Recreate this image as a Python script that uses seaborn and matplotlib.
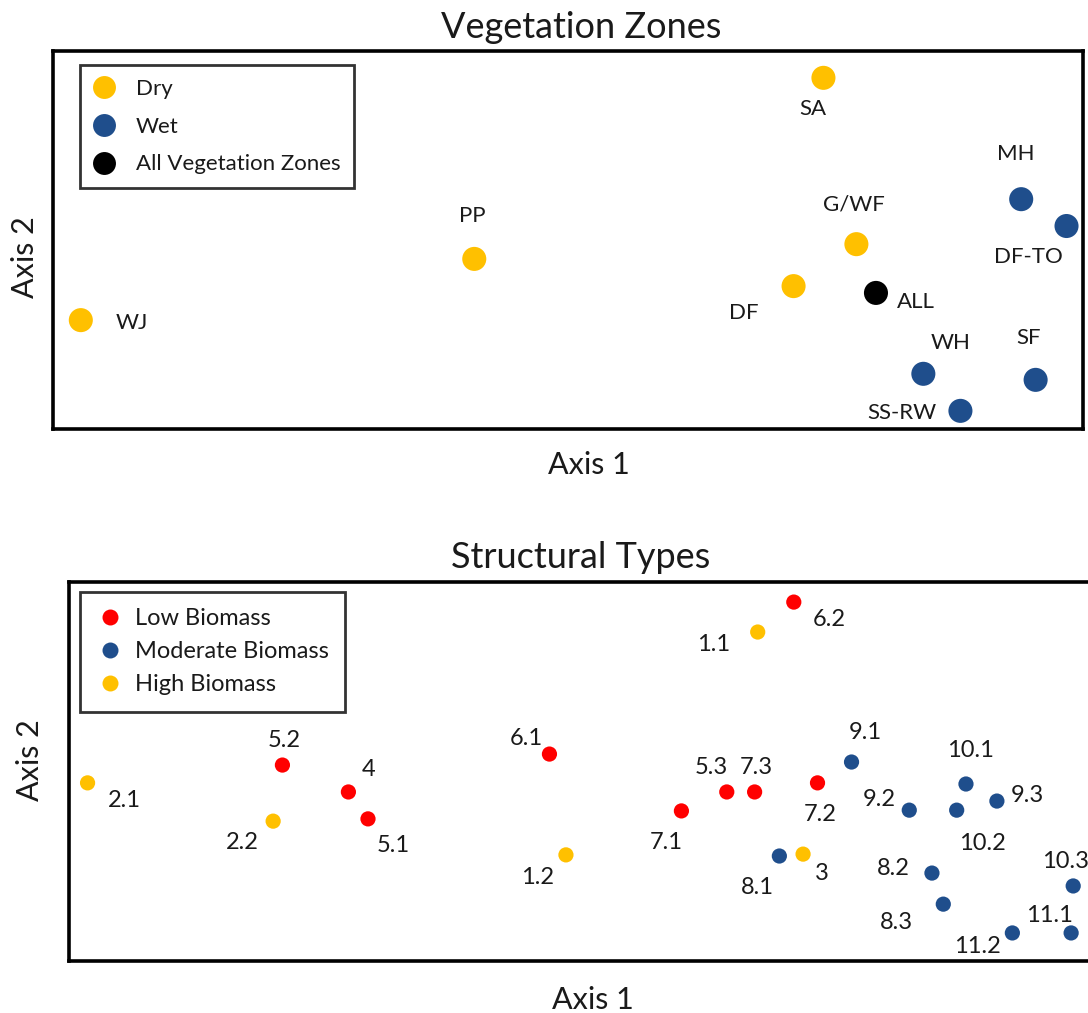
import matplotlib
matplotlib.use("Agg")
import matplotlib.pyplot as plt
from matplotlib.lines import Line2D
import seaborn as sns
import pandas as pd

# ---------------- data ----------------
zone_labels = ["WJ", "PP", "SA", "G/WF", "DF", "ALL", "MH", "DF-TO", "WH", "SF", "SS-RW"]
zone_axis1 = [2.7, 40.9, 74.8, 78.0, 71.9, 79.9, 94.0, 98.4, 84.5, 95.4, 88.1]
zone_axis2 = [28.8, 45.0, 92.9, 48.9, 37.8, 36.0, 60.8, 53.7, 14.6, 13.0, 4.8]
zone_group = ["Dry", "Dry", "Dry", "Dry", "Dry", "All Vegetation Zones",
              "Wet", "Wet", "Wet", "Wet", "Wet"]
zone_order = ["Dry", "Wet", "All Vegetation Zones"]

struct_labels = ["2.1", "5.2", "4", "5.1", "2.2", "6.1", "1.2", "6.2", "1.1", "9.1",
                 "10.1", "5.3", "7.3", "7.2", "7.1", "9.2", "10.2", "9.3", "8.1", "3",
                 "8.2", "10.3", "8.3", "11.2", "11.1"]
struct_axis1 = [1.8, 20.7, 27.1, 29.0, 19.8, 46.6, 48.2, 70.3, 66.8, 75.9,
                87.0, 63.8, 66.5, 72.6, 59.4, 81.5, 86.1, 90.0, 68.9, 71.2,
                83.7, 97.4, 84.8, 91.5, 97.2]
struct_axis2 = [47.0, 51.7, 44.6, 37.5, 36.9, 54.6, 28.0, 94.7, 86.8, 52.5,
                46.7, 44.6, 44.6, 47.0, 39.6, 39.8, 39.8, 42.2, 27.7, 28.2,
                23.2, 19.8, 15.0, 7.4, 7.4]
struct_group = ["High Biomass", "Low Biomass", "Low Biomass", "Low Biomass", "High Biomass",
                "Low Biomass", "High Biomass", "Low Biomass", "High Biomass", "Moderate Biomass",
                "Moderate Biomass", "Low Biomass", "Low Biomass", "Low Biomass", "Low Biomass",
                "Moderate Biomass", "Moderate Biomass", "Moderate Biomass", "Moderate Biomass", "High Biomass",
                "Moderate Biomass", "Moderate Biomass", "Moderate Biomass", "Moderate Biomass", "Moderate Biomass"]
struct_order = ["Low Biomass", "Moderate Biomass", "High Biomass"]

# ---------------- styling / layout ----------------
YELLOW = "#FFC000"
BLUE = "#1F4E8C"
RED = "#FF0000"
BLACK = "#000000"
zone_palette = {"Dry": YELLOW, "Wet": BLUE, "All Vegetation Zones": BLACK}
struct_palette = {"Low Biomass": RED, "Moderate Biomass": BLUE, "High Biomass": YELLOW}

# label offsets in pixels (dx right, dy down)
zone_offsets = {"WJ": (51, 3), "PP": (-2, -43), "SA": (-11, 31), "G/WF": (-3, -40),
                "DF": (-50, 27), "ALL": (40, 9), "MH": (-5, -45), "DF-TO": (-38, 31),
                "WH": (27, -31), "SF": (-7, -42), "SS-RW": (-59, 2)}
struct_offsets = {"2.1": (37, 18), "5.2": (2, -25), "4": (20, -22), "5.1": (25, 27),
                  "2.2": (-31, 21), "6.1": (-23, -16), "1.2": (-28, 23), "6.2": (35, 17),
                  "1.1": (-44, 12), "9.1": (14, -30), "10.1": (4, -34), "5.3": (-15, -24),
                  "7.3": (2, -24), "7.2": (3, 32), "7.1": (-15, 32), "9.2": (-30, -11),
                  "10.2": (26, 33), "9.3": (30, -6), "8.1": (-22, 31), "3": (19, 19),
                  "8.2": (-39, -5), "10.3": (-8, -24), "8.3": (-47, 18), "11.2": (-35, 14),
                  "11.1": (-22, -17)}

sns.set_style("white")
plt.rcParams["font.family"] = ["Lato", "DejaVu Sans"]

W, H = 1088, 1013
fig = plt.figure(figsize=(W / 100, H / 100), dpi=100)
TXT = "#1a1a1a"


def px_axes(l, t, r, b):
    return fig.add_axes([l / W, 1 - b / H, (r - l) / W, (b - t) / H])


def style_axes(ax):
    ax.set_xlim(0, 100)
    ax.set_ylim(0, 100)
    ax.set_xticks([])
    ax.set_yticks([])
    ax.set_xlabel("")
    ax.set_ylabel("")
    for s in ax.spines.values():
        s.set_visible(True)
        s.set_color("black")
        s.set_linewidth(2.6)


# ---------------- top panel ----------------
df_z = pd.DataFrame({"label": zone_labels, "x": zone_axis1, "y": zone_axis2, "group": zone_group})
ax1 = px_axes(53, 51, 1083, 429)
sns.scatterplot(data=df_z, x="x", y="y", hue="group", hue_order=zone_order,
                palette=zone_palette, s=300, linewidth=0, legend=False, ax=ax1, zorder=3)
style_axes(ax1)
for lab, x, y in zip(zone_labels, zone_axis1, zone_axis2):
    dx, dy = zone_offsets[lab]
    ax1.annotate(lab, (x, y), xytext=(dx, -dy), textcoords="offset pixels",
                 ha="center", va="center", fontsize=16, color=TXT)
h1 = [Line2D([], [], marker="o", linestyle="", markersize=16.5, markerfacecolor=zone_palette[g],
             markeredgewidth=0, label=g) for g in zone_order]
leg1 = ax1.legend(handles=h1, loc="upper left", bbox_to_anchor=(0.026, 0.963),
                  borderaxespad=0, frameon=True, fancybox=False, fontsize=16,
                  handletextpad=1.0, labelspacing=0.8, borderpad=0.62, handlelength=0.9)
leg1.get_frame().set_edgecolor("black")
leg1.get_frame().set_linewidth(2.0)
for t in leg1.get_texts():
    t.set_color(TXT)

fig.text(581 / W, 1 - 28 / H, "Vegetation Zones", ha="center", va="center", fontsize=26, color=TXT)
fig.text(589 / W, 1 - 465 / H, "Axis 1", ha="center", va="center", fontsize=22, color=TXT)
fig.text(25 / W, 1 - 257 / H, "Axis 2", ha="center", va="center", fontsize=22, rotation=90, color=TXT)

# ---------------- bottom panel ----------------
df_s = pd.DataFrame({"label": struct_labels, "x": struct_axis1, "y": struct_axis2, "group": struct_group})
ax2 = px_axes(69, 582, 1100, 961)
sns.scatterplot(data=df_s, x="x", y="y", hue="group", hue_order=struct_order,
                palette=struct_palette, s=120, linewidth=0, legend=False, ax=ax2, zorder=3)
style_axes(ax2)
for lab, x, y in zip(struct_labels, struct_axis1, struct_axis2):
    dx, dy = struct_offsets[lab]
    ax2.annotate(lab, (x, y), xytext=(dx, -dy), textcoords="offset pixels",
                 ha="center", va="center", fontsize=17, color=TXT)
h2 = [Line2D([], [], marker="o", linestyle="", markersize=11.5, markerfacecolor=struct_palette[g],
             markeredgewidth=0, label=g) for g in struct_order]
leg2 = ax2.legend(handles=h2, loc="upper left", bbox_to_anchor=(0.0107, 0.974),
                  borderaxespad=0, frameon=True, fancybox=False, fontsize=17,
                  handletextpad=0.45, labelspacing=0.52, borderpad=0.68, handlelength=1.2)
leg2.get_frame().set_edgecolor("black")
leg2.get_frame().set_linewidth(2.0)
for t in leg2.get_texts():
    t.set_color(TXT)

fig.text(581 / W, 1 - 558 / H, "Structural Types", ha="center", va="center", fontsize=26, color=TXT)
fig.text(593 / W, 1 - 1000 / H, "Axis 1", ha="center", va="center", fontsize=22, color=TXT)
fig.text(30 / W, 1 - 760 / H, "Axis 2", ha="center", va="center", fontsize=22, rotation=90, color=TXT)

fig.savefig("out.png", dpi=100, facecolor="white")
